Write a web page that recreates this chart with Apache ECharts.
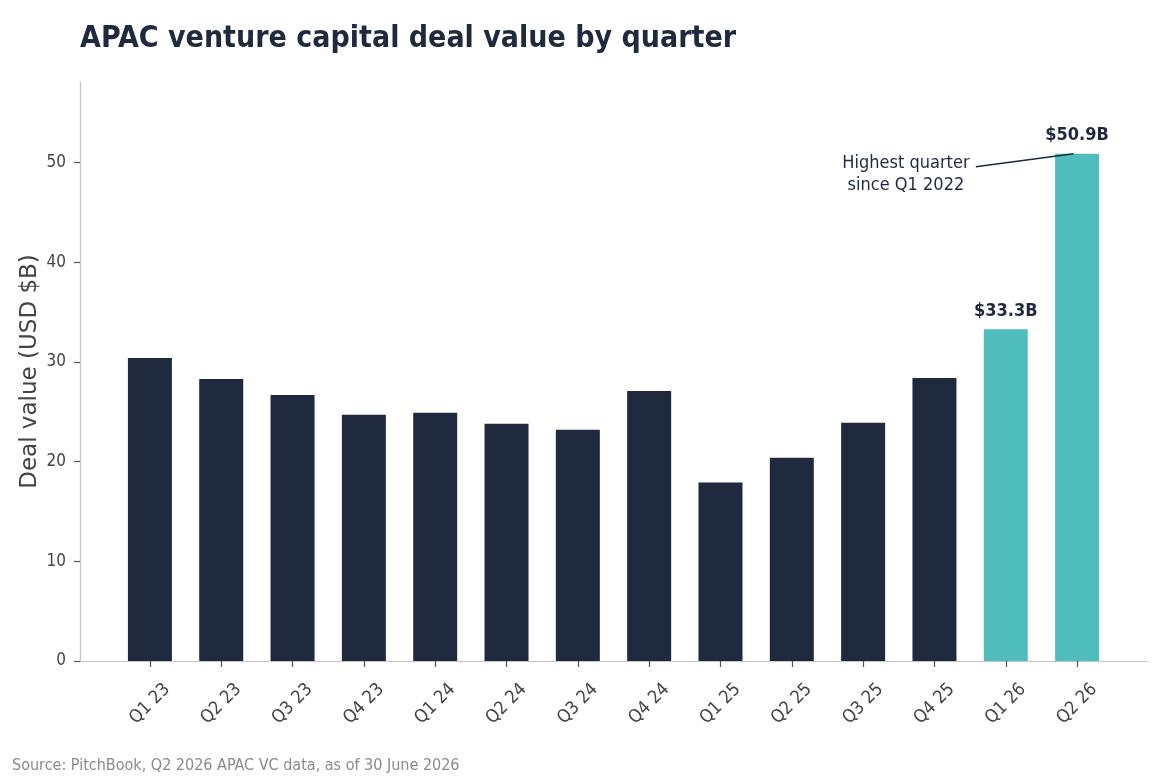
<!DOCTYPE html>
<html>
<head>
<meta charset="utf-8">
<title>APAC VC deal value</title>
<script src="https://cdn.jsdelivr.net/npm/echarts@6/dist/echarts.min.js"></script>
<style>
  html, body { margin: 0; padding: 0; background: #fff; }
  #main { width: 1167px; height: 779px; }
</style>
</head>
<body>
<div id="main"></div>
<script>
// data
var quarters = ['Q1 23', 'Q2 23', 'Q3 23', 'Q4 23', 'Q1 24', 'Q2 24', 'Q3 24',
                'Q4 24', 'Q1 25', 'Q2 25', 'Q3 25', 'Q4 25', 'Q1 26', 'Q2 26'];
var dealValue = [30.4, 28.3, 26.7, 24.7, 24.9, 23.8, 23.2, 27.1, 17.9, 20.4, 23.9, 28.4, 33.3, 50.9];
var highlighted = [12, 13];   // indexes of the teal bars
var yTicks = [0, 10, 20, 30, 40, 50];

var NAVY = '#1f2a3e';
var TEAL = '#50bdbd';
// "DejaVu Sans Condensed" is not found by name, the stretch keyword in the weight does the job
var FONT = '"DejaVu Sans", sans-serif';
var BOLD_C = 'bold condensed';
var NORM_C = 'condensed';

var myChart = echarts.init(document.getElementById('main'));

var xPos = quarters.map(function (q, i) { return i; });

var barData = dealValue.map(function (v, i) {
    var hi = highlighted.indexOf(i) >= 0;
    var item = { value: [i, v], itemStyle: { color: hi ? TEAL : NAVY } };
    if (hi) {
        item.label = {
            show: true,
            position: 'top',
            distance: 9,
            formatter: '$' + v.toFixed(1) + 'B',
            fontFamily: FONT,
            fontWeight: BOLD_C,
            fontSize: 18,
            color: NAVY
        };
    }
    return item;
});

var option = {
    animation: false,
    backgroundColor: '#fff',
    title: [{
        text: 'APAC venture capital deal value by quarter',
        left: 80,
        top: 24,
        padding: 0,
        textStyle: { fontFamily: FONT, fontWeight: BOLD_C, fontSize: 30, color: NAVY }
    }, {
        text: 'Source: PitchBook, Q2 2026 APAC VC data, as of 30 June 2026',
        left: 12,
        top: 758,
        padding: 0,
        textStyle: { fontFamily: FONT, fontWeight: NORM_C, fontSize: 16, color: '#8a8a8a' }
    }],
    grid: { left: 80, right: 20, top: 82, bottom: 118 },
    xAxis: {
        type: 'value',
        min: -0.98,
        max: 13.98,
        axisLine: { show: true, lineStyle: { color: '#c4c4c4', width: 1.2 } },
        axisTick: { show: true, length: 6, customValues: xPos, lineStyle: { color: '#555', width: 1.2 } },
        axisLabel: {
            customValues: xPos,
            formatter: function (v) { return quarters[Math.round(v)]; },
            rotate: 45,
            align: 'center',
            verticalAlign: 'middle',
            margin: 43,
            fontFamily: FONT,
            fontWeight: NORM_C,
            fontSize: 18,
            color: '#444'
        },
        splitLine: { show: false }
    },
    yAxis: {
        type: 'value',
        min: 0,
        max: 58.1,
        name: 'Deal value (USD $B)',
        nameLocation: 'middle',
        nameGap: 38,
        nameMoveOverlap: false,
        nameTextStyle: { fontFamily: FONT, fontSize: 23, color: '#444' },
        axisLine: { show: true, onZero: false, lineStyle: { color: '#c4c4c4', width: 1.2 } },
        axisTick: { show: true, length: 6, customValues: yTicks, lineStyle: { color: '#555', width: 1.2 } },
        axisLabel: { customValues: yTicks, margin: 14, fontFamily: FONT, fontWeight: NORM_C, fontSize: 17, color: '#444' },
        splitLine: { show: false }
    },
    series: [{
        type: 'bar',
        data: barData,
        barWidth: 44,
        markLine: {
            silent: true,
            symbol: ['none', 'none'],
            label: { show: false },
            lineStyle: { color: NAVY, width: 1.6, type: 'solid' },
            data: [[{ coord: [11.58, 49.6] }, { coord: [12.95, 50.9] }]]
        },
        markPoint: {
            silent: true,
            symbol: 'circle',
            symbolSize: 0,
            data: [{
                coord: [10.6, 48.8],
                label: {
                    show: true,
                    position: 'inside',
                    formatter: 'Highest quarter\nsince Q1 2022',
                    align: 'center',
                    lineHeight: 22,
                    fontFamily: FONT,
                    fontWeight: NORM_C,
                    fontSize: 18,
                    color: NAVY
                }
            }]
        }
    }]
};

myChart.setOption(option);
</script>
</body>
</html>
